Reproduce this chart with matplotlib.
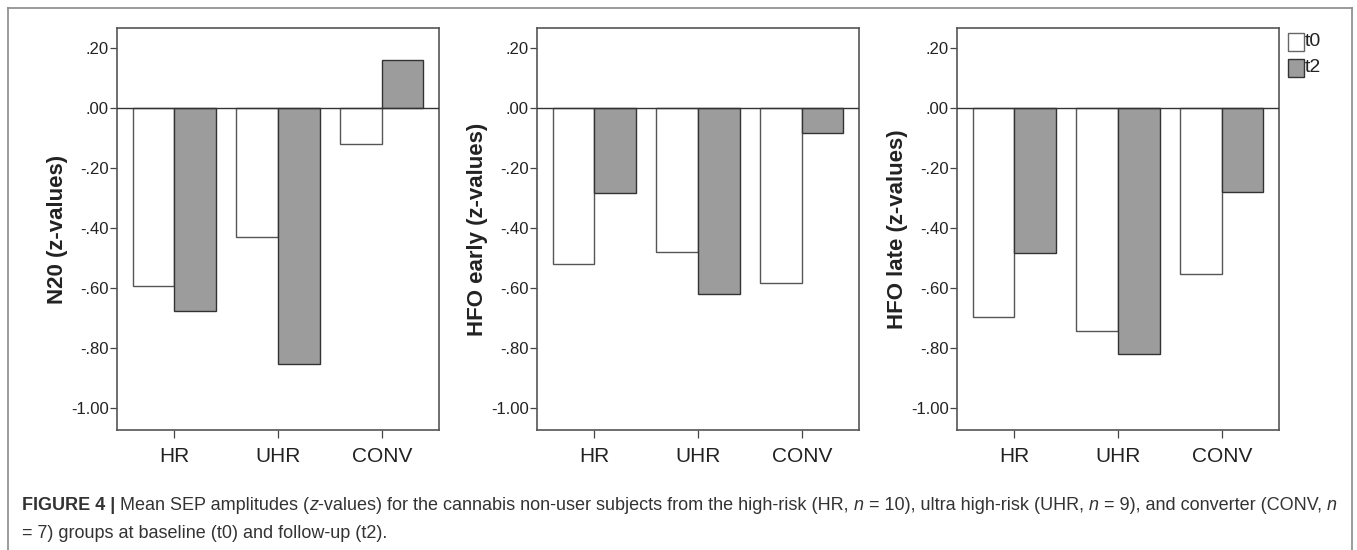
import matplotlib.pyplot as plt
from matplotlib.patches import Rectangle

plt.rcParams['font.family'] = ['Liberation Sans', 'DejaVu Sans']

groups = ["HR", "UHR", "CONV"]
ylabels = ["N20 (z-values)", "HFO early (z-values)", "HFO late (z-values)"]
# mean z-values per panel, t0 and t2
t0 = [[-0.593, -0.429, -0.118],
      [-0.520, -0.479, -0.584],
      [-0.696, -0.742, -0.554]]
t2 = [[-0.677, -0.853, 0.162],
      [-0.284, -0.618, -0.084],
      [-0.484, -0.818, -0.280]]
yticks = [0.2, 0.0, -0.2, -0.4, -0.6, -0.8, -1.0]
ytick_labels = [".20", ".00", "-.20", "-.40", "-.60", "-.80", "-1.00"]

W, H = 1357, 550
fig = plt.figure(figsize=(W / 100, H / 100), dpi=100)

# outer frame of the figure (no bottom line)
frame = dict(color="#8a8a8a", lw=1.2, transform=fig.transFigure)
fig.add_artist(plt.Line2D([8 / W, 8 / W], [0, 1 - 8 / H], **frame))
fig.add_artist(plt.Line2D([8 / W, 1352 / W], [1 - 8 / H, 1 - 8 / H], **frame))
fig.add_artist(plt.Line2D([1352 / W, 1352 / W], [0, 1 - 8 / H], **frame))

lefts = [117, 537, 957]
top, bottom, width = 28, 430, 322
x = range(len(groups))
bw = 0.4

for i in range(3):
    ax = fig.add_axes([lefts[i] / W, 1 - bottom / H, width / W, (bottom - top) / H])
    ax.bar([p - bw / 2 for p in x], t0[i], width=bw, color="white", edgecolor="#555555", lw=1.0, zorder=2)
    ax.bar([p + bw / 2 for p in x], t2[i], width=bw, color="#9c9c9c", edgecolor="#333333", lw=1.0, zorder=2)
    ax.axhline(0, color="#333333", lw=1.0, zorder=3)
    ax.set_xlim(-0.55, 2.55)
    ax.set_ylim(-1.073, 0.267)
    ax.set_yticks(yticks)
    ax.set_yticklabels(ytick_labels)
    ax.set_xticks(list(x))
    ax.set_xticklabels(groups)
    ax.tick_params(axis="y", labelsize=12, length=5, width=0.9, color="#444444", labelcolor="#222222", pad=1)
    ax.tick_params(axis="x", labelsize=15, length=6, width=0.9, color="#444444", labelcolor="#222222", pad=6)
    for s in ax.spines.values():
        s.set_color("#555555")
        s.set_linewidth(1.2)
    ax.set_ylabel(ylabels[i], fontsize=16, fontweight="bold", color="#222222")
    ax.yaxis.set_label_coords(-0.153, 0.5)

# legend in the right margin
lx = 1288
fig.add_artist(Rectangle((lx / W, 1 - 51 / H), 16 / W, 18 / H, transform=fig.transFigure,
                         facecolor="white", edgecolor="#666666", lw=1.0))
fig.add_artist(Rectangle((lx / W, 1 - 77 / H), 16 / W, 18 / H, transform=fig.transFigure,
                         facecolor="#9c9c9c", edgecolor="#333333", lw=1.0))
fig.text(1305 / W, 1 - 42 / H, "t0", fontsize=14, va="center", color="#222222")
fig.text(1305 / W, 1 - 68 / H, "t2", fontsize=14, va="center", color="#222222")

# caption, built from runs of text
fig.canvas.draw()
renderer = fig.canvas.get_renderer()


def write_line(runs, x0, y0, size=13):
    xp = x0
    for txt, weight, style in runs:
        t = fig.text(xp / W, 1 - y0 / H, txt, fontsize=size, fontweight=weight,
                     fontstyle=style, va="center", color="#333333")
        bb = t.get_window_extent(renderer=renderer)
        xp += bb.width


line1 = [("FIGURE 4 | ", "bold", "normal"),
         ("Mean SEP amplitudes (", "normal", "normal"),
         ("z", "normal", "italic"),
         ("-values) for the cannabis non-user subjects from the high-risk (HR, ", "normal", "normal"),
         ("n", "normal", "italic"),
         (" = 10), ultra high-risk (UHR, ", "normal", "normal"),
         ("n", "normal", "italic"),
         (" = 9), and converter (CONV, ", "normal", "normal"),
         ("n", "normal", "italic")]
line2 = [("= 7) groups at baseline (t0) and follow-up (t2).", "normal", "normal")]
write_line(line1, 22, 506)
write_line(line2, 22, 534)

fig.savefig("out.png", dpi=100)
